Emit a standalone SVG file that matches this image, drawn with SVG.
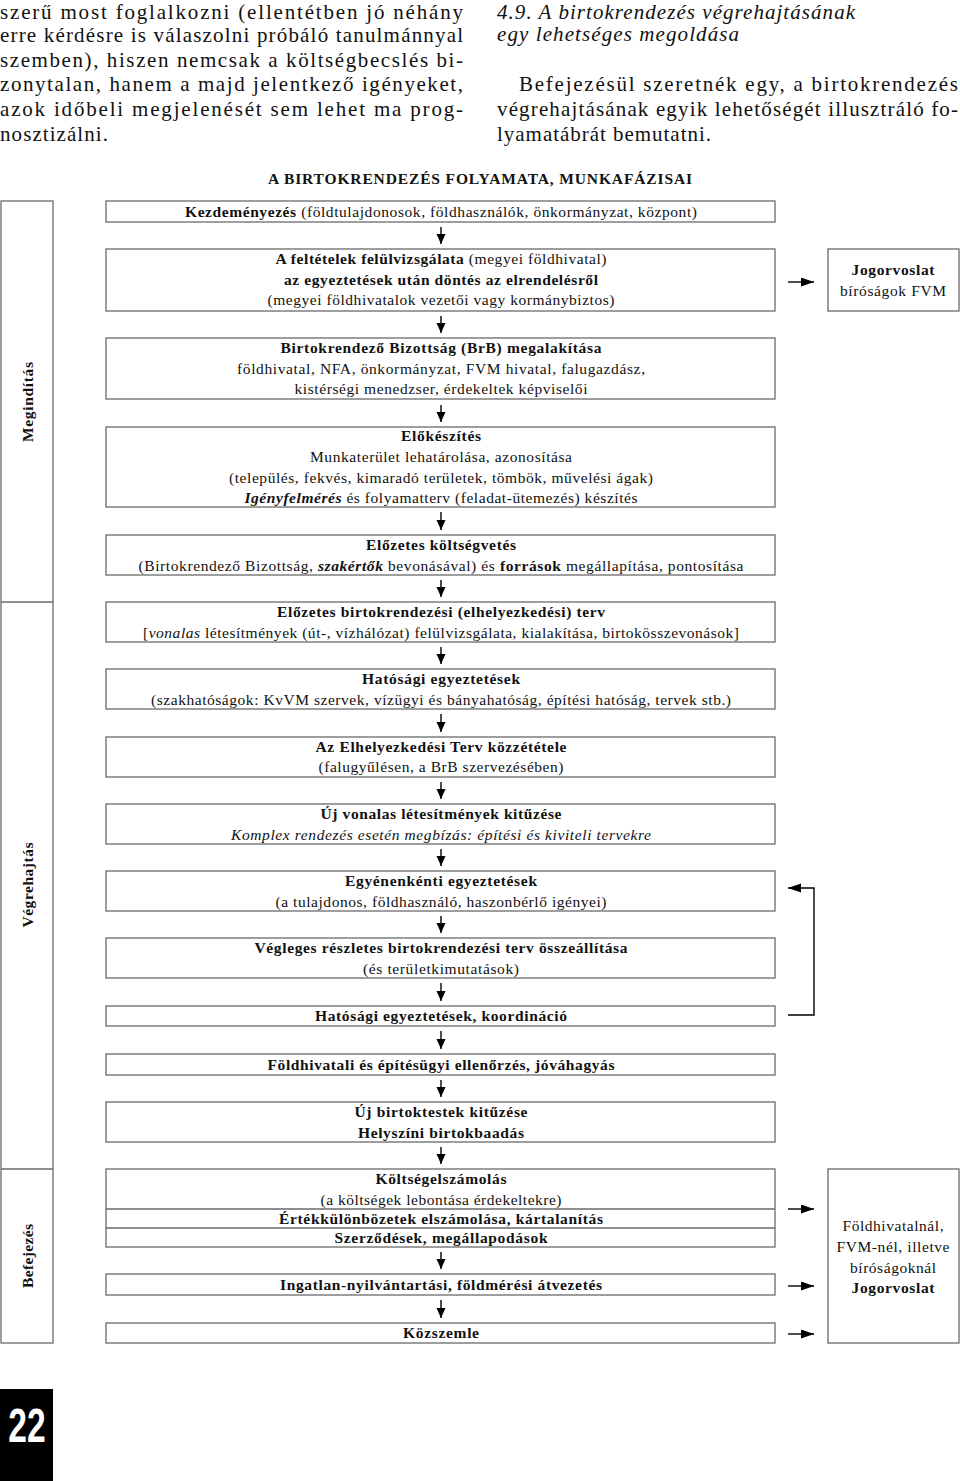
<svg xmlns="http://www.w3.org/2000/svg" width="960" height="1481" viewBox="0 0 960 1481">
<style>
.bx{fill:#fff;stroke:#6a6a6a;stroke-width:1.3}
.ph{fill:none;stroke:#6a6a6a;stroke-width:1.3}
.t{font-family:"Liberation Serif","Times New Roman",serif;font-size:15.5px;fill:#111;text-anchor:middle}
.p{font-family:"Liberation Serif","Times New Roman",serif;font-size:21px;fill:#111}
.b{font-weight:bold}
.i{font-style:italic}
.ar{fill:none;stroke:#000;stroke-width:1.4}
</style>
<defs>
<marker id="ah" markerUnits="userSpaceOnUse" markerWidth="14" markerHeight="10" refX="13" refY="4.5" orient="auto">
<path d="M0,0 L13,4.5 L0,9 z" fill="#000"/>
</marker>
<marker id="ad" markerUnits="userSpaceOnUse" markerWidth="11" markerHeight="10" refX="10" refY="4.5" orient="auto">
<path d="M0,0 L10,4.5 L0,9 z" fill="#000"/>
</marker>
</defs>

<g id="page-text">
<text class="p" x="0" y="19" textLength="463">szerű most foglalkozni (ellentétben jó néhány</text>
<text class="p" x="0" y="42" textLength="463">erre kérdésre is válaszolni próbáló tanulmánnyal</text>
<text class="p" x="0" y="67" textLength="463">szemben), hiszen nemcsak a költségbecslés bi-</text>
<text class="p" x="0" y="91" textLength="463">zonytalan, hanem a majd jelentkező igényeket,</text>
<text class="p" x="0" y="116" textLength="463">azok időbeli megjelenését sem lehet ma prog-</text>
<text class="p" x="0" y="141" textLength="108">nosztizálni.</text>
<text class="p i" x="497" y="19" textLength="358">4.9. A birtokrendezés végrehajtásának</text>
<text class="p i" x="497" y="41" textLength="242">egy lehetséges megoldása</text>
<text class="p" x="519" y="91" textLength="439">Befejezésül szeretnék egy, a birtokrendezés</text>
<text class="p" x="497" y="116" textLength="461">végrehajtásának egyik lehetőségét illusztráló fo-</text>
<text class="p" x="497" y="141" textLength="214">lyamatábrát bemutatni.</text>
<text class="t b" x="480" y="184" textLength="424">A BIRTOKRENDEZÉS FOLYAMATA, MUNKAFÁZISAI</text>
</g>

<g id="phases">
<rect class="ph" x="1" y="201" width="52" height="1142"/>
<line class="ph" x1="1" y1="602" x2="53" y2="602"/>
<line class="ph" x1="1" y1="1169" x2="53" y2="1169"/>
<text class="t b" transform="translate(33,402) rotate(-90)" textLength="80">Megindítás</text>
<text class="t b" transform="translate(33,885) rotate(-90)" textLength="85">Végrehajtás</text>
<text class="t b" transform="translate(33,1256) rotate(-90)" textLength="64">Befejezés</text>
</g>

<g id="n1"><rect class="bx" x="106" y="201" width="669" height="21"/>
<text class="t" x="441" y="217" textLength="512"><tspan class="b">Kezdeményezés</tspan> (földtulajdonosok, földhasználók, önkormányzat, központ)</text></g>

<g id="n2"><rect class="bx" x="106" y="249" width="669" height="62"/>
<text class="t" x="441" y="264" textLength="331"><tspan class="b">A feltételek felülvizsgálata</tspan> (megyei földhivatal)</text>
<text class="t b" x="441" y="285" textLength="314">az egyeztetések után döntés az elrendelésről</text>
<text class="t" x="441" y="305" textLength="347">(megyei földhivatalok vezetői vagy kormánybiztos)</text></g>

<g id="n2r"><rect class="bx" x="828" y="249" width="131" height="62"/>
<text class="t b" x="893" y="275" textLength="83">Jogorvoslat</text>
<text class="t" x="893" y="296" textLength="106">bíróságok FVM</text></g>

<g id="n3"><rect class="bx" x="106" y="338" width="669" height="61"/>
<text class="t b" x="441" y="353" textLength="321">Birtokrendező Bizottság (BrB) megalakítása</text>
<text class="t" x="441" y="374" textLength="408">földhivatal, NFA, önkormányzat, FVM hivatal, falugazdász,</text>
<text class="t" x="441" y="394" textLength="293">kistérségi menedzser, érdekeltek képviselői</text></g>

<g id="n4"><rect class="bx" x="106" y="427" width="669" height="80"/>
<text class="t b" x="441" y="441" textLength="80">Előkészítés</text>
<text class="t" x="441" y="462" textLength="262">Munkaterület lehatárolása, azonosítása</text>
<text class="t" x="441" y="483" textLength="424">(település, fekvés, kimaradó területek, tömbök, művelési ágak)</text>
<text class="t" x="441" y="503" textLength="393"><tspan class="b i">Igényfelmérés</tspan> és folyamatterv (feladat-ütemezés) készítés</text></g>

<g id="n5"><rect class="bx" x="106" y="535" width="669" height="40"/>
<text class="t b" x="441" y="550" textLength="150">Előzetes költségvetés</text>
<text class="t" x="441" y="571" textLength="605">(Birtokrendező Bizottság, <tspan class="b i">szakértők</tspan> bevonásával) és <tspan class="b">források</tspan> megállapítása, pontosítása</text></g>

<g id="n6"><rect class="bx" x="106" y="602" width="669" height="40"/>
<text class="t b" x="441" y="617" textLength="328">Előzetes birtokrendezési (elhelyezkedési) terv</text>
<text class="t" x="441" y="638" textLength="596">[<tspan class="i">vonalas</tspan> létesítmények (út-, vízhálózat) felülvizsgálata, kialakítása, birtokösszevonások]</text></g>

<g id="n7"><rect class="bx" x="106" y="669" width="669" height="40"/>
<text class="t b" x="441" y="684" textLength="158">Hatósági egyeztetések</text>
<text class="t" x="441" y="705" textLength="580">(szakhatóságok: KvVM szervek, vízügyi és bányahatóság, építési hatóság, tervek stb.)</text></g>

<g id="n8"><rect class="bx" x="106" y="737" width="669" height="40"/>
<text class="t b" x="441" y="752" textLength="251">Az Elhelyezkedési Terv közzététele</text>
<text class="t" x="441" y="772" textLength="245">(falugyűlésen, a BrB szervezésében)</text></g>

<g id="n9"><rect class="bx" x="106" y="804" width="669" height="40"/>
<text class="t b" x="441" y="819" textLength="241">Új vonalas létesítmények kitűzése</text>
<text class="t i" x="441" y="840" textLength="420">Komplex rendezés esetén megbízás: építési és kiviteli tervekre</text></g>

<g id="n10"><rect class="bx" x="106" y="871" width="669" height="40"/>
<text class="t b" x="441" y="886" textLength="192">Egyénenkénti egyeztetések</text>
<text class="t" x="441" y="907" textLength="331">(a tulajdonos, földhasználó, haszonbérlő igényei)</text></g>

<g id="n11"><rect class="bx" x="106" y="938" width="669" height="40"/>
<text class="t b" x="441" y="953" textLength="373">Végleges részletes birtokrendezési terv összeállítása</text>
<text class="t" x="441" y="974" textLength="156">(és területkimutatások)</text></g>

<g id="n12"><rect class="bx" x="106" y="1006" width="669" height="20"/>
<text class="t b" x="441" y="1021" textLength="252">Hatósági egyeztetések, koordináció</text></g>

<g id="n13"><rect class="bx" x="106" y="1054" width="669" height="21"/>
<text class="t b" x="441" y="1070" textLength="347">Földhivatali és építésügyi ellenőrzés, jóváhagyás</text></g>

<g id="n14"><rect class="bx" x="106" y="1102" width="669" height="40"/>
<text class="t b" x="441" y="1117" textLength="173">Új birtoktestek kitűzése</text>
<text class="t b" x="441" y="1138" textLength="166">Helyszíni birtokbaadás</text></g>

<g id="n15"><rect class="bx" x="106" y="1169" width="669" height="78"/>
<line class="bx" x1="106" y1="1209" x2="775" y2="1209"/>
<line class="bx" x1="106" y1="1228" x2="775" y2="1228"/>
<text class="t b" x="441" y="1184" textLength="131">Költségelszámolás</text>
<text class="t" x="441" y="1205" textLength="241">(a költségek lebontása érdekeltekre)</text>
<text class="t b" x="441" y="1224" textLength="324">Értékkülönbözetek elszámolása, kártalanítás</text>
<text class="t b" x="441" y="1243" textLength="213">Szerződések, megállapodások</text></g>

<g id="n16"><rect class="bx" x="106" y="1274" width="669" height="21"/>
<text class="t b" x="441" y="1290" textLength="322">Ingatlan-nyilvántartási, földmérési átvezetés</text></g>

<g id="n17"><rect class="bx" x="106" y="1323" width="669" height="20"/>
<text class="t b" x="441" y="1338" textLength="76">Közszemle</text></g>

<g id="n18"><rect class="bx" x="828" y="1169" width="131" height="174"/>
<text class="t" x="893" y="1231" textLength="101">Földhivatalnál,</text>
<text class="t" x="893" y="1252" textLength="113">FVM-nél, illetve</text>
<text class="t" x="893" y="1273" textLength="86">bíróságoknál</text>
<text class="t b" x="893" y="1293" textLength="83">Jogorvoslat</text></g>

<g id="connectors">
<line class="ar" x1="441" y1="227" x2="441" y2="244" marker-end="url(#ad)"/>
<line class="ar" x1="441" y1="316" x2="441" y2="333" marker-end="url(#ad)"/>
<line class="ar" x1="441" y1="405" x2="441" y2="422" marker-end="url(#ad)"/>
<line class="ar" x1="441" y1="512" x2="441" y2="530" marker-end="url(#ad)"/>
<line class="ar" x1="441" y1="580" x2="441" y2="597" marker-end="url(#ad)"/>
<line class="ar" x1="441" y1="647" x2="441" y2="664" marker-end="url(#ad)"/>
<line class="ar" x1="441" y1="714" x2="441" y2="732" marker-end="url(#ad)"/>
<line class="ar" x1="441" y1="782" x2="441" y2="799" marker-end="url(#ad)"/>
<line class="ar" x1="441" y1="849" x2="441" y2="866" marker-end="url(#ad)"/>
<line class="ar" x1="441" y1="916" x2="441" y2="933" marker-end="url(#ad)"/>
<line class="ar" x1="441" y1="983" x2="441" y2="1001" marker-end="url(#ad)"/>
<line class="ar" x1="441" y1="1031" x2="441" y2="1049" marker-end="url(#ad)"/>
<line class="ar" x1="441" y1="1080" x2="441" y2="1097" marker-end="url(#ad)"/>
<line class="ar" x1="441" y1="1147" x2="441" y2="1164" marker-end="url(#ad)"/>
<line class="ar" x1="441" y1="1252" x2="441" y2="1269" marker-end="url(#ad)"/>
<line class="ar" x1="441" y1="1300" x2="441" y2="1318" marker-end="url(#ad)"/>
<line class="ar" x1="788" y1="282" x2="814" y2="282" marker-end="url(#ah)"/>
<line class="ar" x1="788" y1="1209" x2="814" y2="1209" marker-end="url(#ah)"/>
<line class="ar" x1="788" y1="1286" x2="814" y2="1286" marker-end="url(#ah)"/>
<line class="ar" x1="788" y1="1334" x2="814" y2="1334" marker-end="url(#ah)"/>
<path class="ar" d="M788,1015 H814 V888 H788" marker-end="url(#ah)"/>
</g>

<g id="page-number">
<rect x="0" y="1389" width="53" height="92" fill="#000"/>
<text transform="translate(27,1442) scale(0.7,1)" font-family="Liberation Sans, Arial, sans-serif" font-weight="bold" font-size="48" fill="#fff" text-anchor="middle">22</text>
</g>
</svg>
